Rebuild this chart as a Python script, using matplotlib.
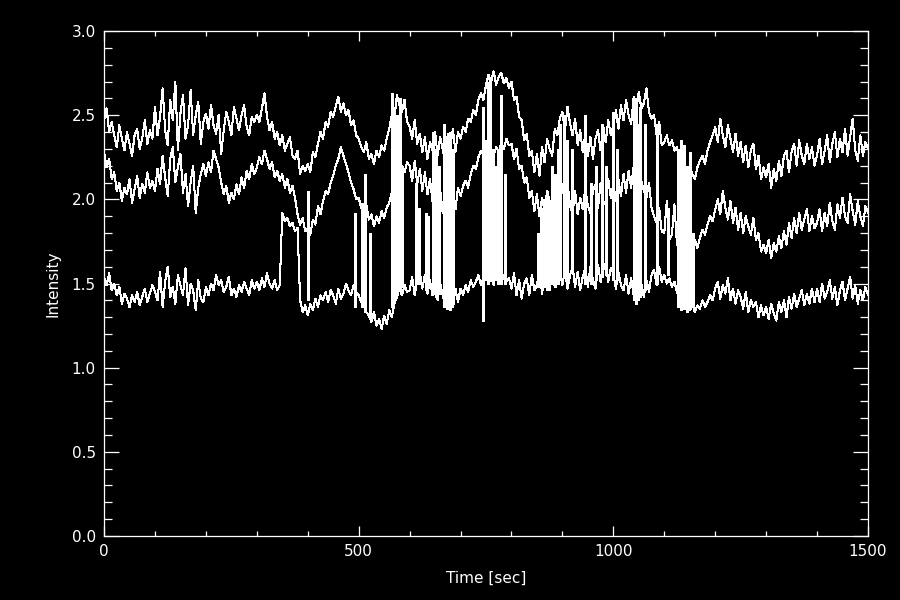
import numpy as np
import matplotlib.pyplot as plt
from matplotlib.ticker import MultipleLocator, FormatStrFormatter

# time axis: one sample every 5 sec
time = np.arange(0, 1501, 5)

# intensity x 100, one row per 100 sec
top = [
    247, 254, 240, 246, 238, 231, 244, 236, 229, 240, 233, 226, 238, 242, 230, 236, 247, 233, 241, 236,
    255, 238, 249, 266, 241, 232, 259, 247, 270, 229, 251, 262, 236, 244, 265, 238, 250, 258, 233, 246,
    251, 242, 256, 244, 239, 250, 227, 241, 252, 246, 238, 255, 248, 241, 250, 256, 243, 238, 249, 246,
    250, 246, 254, 263, 249, 241, 246, 236, 240, 232, 238, 229, 233, 237, 226, 224, 229, 215, 220, 217,
    221, 216, 228, 225, 233, 240, 236, 246, 243, 252, 249, 255, 261, 252, 257, 250, 253, 244, 247, 238,
    236, 231, 228, 234, 224, 227, 221, 229, 225, 232, 229, 236, 242, 250, 247, 262, 256, 252, 259, 246,
    243, 236, 247, 233, 239, 228, 237, 224, 234, 229, 240, 226, 237, 230, 222, 239, 231, 242, 228, 240,
    236, 243, 240, 248, 246, 253, 250, 259, 263, 259, 268, 274, 270, 276, 268, 273, 275, 269, 272, 266,
    270, 259, 261, 249, 247, 235, 239, 226, 229, 216, 227, 214, 231, 222, 236, 230, 226, 242, 238, 248,
    252, 241, 255, 245, 238, 248, 232, 241, 228, 239, 226, 237, 224, 236, 241, 229, 244, 234, 247, 238,
    244, 253, 242, 256, 247, 259, 250, 245, 261, 252, 264, 254, 257, 266, 252, 248, 250, 238, 246, 232,
    234, 238, 232, 235, 229, 231, 222, 226, 218, 213, 220, 215, 212, 219, 223, 226, 221, 229, 234, 238,
    243, 234, 248, 238, 231, 244, 236, 228, 239, 226, 234, 222, 232, 219, 229, 233, 218, 226, 212, 219,
    213, 221, 207, 218, 211, 223, 214, 226, 229, 216, 228, 233, 220, 235, 226, 221, 233, 224, 231, 220,
    226, 236, 221, 229, 238, 222, 233, 240, 225, 236, 228, 242, 226, 237, 248, 229, 223, 238, 226, 234,
    230,
]

middle = [
    228, 219, 224, 212, 216, 205, 210, 199, 207, 203, 212, 198, 206, 214, 201, 209, 204, 216, 207, 211,
    205, 218, 209, 226, 213, 202, 224, 231, 210, 219, 227, 204, 215, 196, 210, 220, 192, 207, 215, 221,
    214, 222, 216, 229, 224, 219, 210, 203, 208, 198, 204, 200, 209, 203, 213, 207, 217, 212, 221, 215,
    219, 225, 221, 229, 224, 218, 222, 213, 217, 211, 215, 207, 212, 204, 208, 201, 191, 185, 189, 181,
    183, 179, 188, 185, 196, 191, 199, 205, 203, 210, 214, 220, 224, 231, 226, 221, 216, 210, 206, 200,
    201, 195, 193, 197, 188, 191, 184, 190, 186, 193, 189, 195, 198, 204, 210, 207, 214, 220, 216, 222,
    220, 211, 223, 209, 218, 205, 216, 203, 212, 199, 208, 195, 206, 192, 201, 197, 190, 204, 194, 207,
    202, 208, 211, 207, 215, 220, 218, 225, 229, 226, 232, 235, 229, 226, 231, 228, 234, 230, 236, 232,
    233, 224, 230, 218, 220, 210, 213, 201, 205, 193, 203, 190, 201, 193, 205, 199, 196, 210, 199, 212,
    208, 198, 210, 196, 192, 205, 191, 201, 194, 207, 196, 192, 205, 209, 195, 210, 199, 197, 212, 201,
    209, 199, 212, 202, 215, 204, 217, 207, 220, 209, 222, 211, 205, 201, 210, 195, 190, 186, 195, 181,
    180, 199, 176, 179, 197, 173, 170, 200, 171, 174, 168, 173, 176, 171, 177, 182, 179, 185, 190, 187,
    194, 200, 191, 205, 195, 188, 199, 186, 195, 182, 192, 180, 190, 184, 179, 189, 176, 180, 169, 173,
    168, 176, 165, 174, 169, 178, 171, 181, 173, 186, 177, 189, 180, 192, 182, 188, 194, 181, 190, 183,
    186, 194, 181, 192, 184, 198, 187, 182, 197, 189, 201, 190, 186, 203, 193, 185, 199, 190, 184, 196,
    192,
]

bottom = [
    154, 149, 156, 146, 150, 143, 148, 138, 144, 141, 136, 143, 139, 145, 137, 142, 147, 139, 144, 149,
    145, 140, 157, 136, 151, 160, 142, 148, 138, 155, 149, 143, 159, 137, 150, 146, 134, 152, 141, 139,
    148, 143, 150, 146, 155, 149, 152, 145, 148, 154, 143, 147, 142, 149, 145, 151, 147, 143, 152, 147,
    151, 146, 153, 148, 156, 150, 147, 152, 146, 149, 192, 187, 189, 184, 186, 181, 183, 140, 133, 137,
    131, 138, 134, 141, 136, 143, 140, 145, 139, 146, 143, 138, 147, 141, 144, 150, 146, 143, 149, 145,
    143, 139, 141, 133, 131, 127, 133, 125, 129, 123, 131, 126, 134, 130, 138, 142, 147, 143, 149, 145,
    146, 154, 143, 152, 157, 147, 155, 144, 152, 143, 155, 140, 150, 143, 138, 148, 140, 136, 147, 139,
    147, 143, 149, 145, 152, 148, 151, 155, 149, 153, 156, 150, 154, 149, 157, 152, 150, 155, 151, 153,
    147, 156, 143, 152, 141, 150, 153, 143, 155, 146, 149, 158, 144, 153, 156, 146, 157, 148, 151, 158,
    149, 158, 147, 155, 160, 148, 157, 146, 154, 159, 148, 160, 152, 147, 161, 151, 158, 162, 151, 159,
    156, 147, 157, 149, 146, 155, 144, 153, 143, 152, 141, 150, 142, 152, 145, 155, 158, 149, 160, 151,
    155, 150, 153, 148, 151, 145, 141, 143, 137, 140, 134, 138, 133, 137, 135, 140, 136, 139, 143, 140,
    147, 151, 141, 149, 144, 153, 140, 147, 138, 146, 142, 135, 145, 133, 140, 136, 139, 130, 137, 131,
    136, 129, 138, 132, 128, 139, 133, 140, 130, 142, 135, 144, 136, 141, 146, 137, 144, 138, 147, 139,
    147, 139, 150, 141, 145, 152, 141, 148, 137, 146, 151, 140, 147, 154, 141, 149, 138, 146, 140, 148,
    143,
]

# short jumps of the signal between levels (time, low, high)
spike_t = [400, 493, 506, 512, 522, 565, 570, 575, 581, 586, 612, 618,
           632, 637, 646, 652, 658, 667, 673, 679, 686,
           745, 750, 754, 758, 763, 768, 774, 780, 787,
           852, 858, 863, 869, 874, 880, 885, 891, 896, 903, 910, 918,
           945, 957, 966, 978, 985, 1000, 1008,
           1040, 1044, 1049, 1053, 1063, 1085, 1107,
           1127, 1132, 1138, 1144, 1150, 1157]
spike_lo = [1.40, 1.36, 1.36, 1.33, 1.30, 1.36, 1.40, 1.44, 1.46, 1.48, 1.50, 1.50,
            1.46, 1.48, 1.44, 1.42, 1.44, 1.36, 1.35, 1.34, 1.38,
            1.28, 1.52, 1.50, 1.52, 1.50, 1.52, 1.50, 1.50, 1.50,
            1.48, 1.50, 1.48, 1.46, 1.50, 1.50, 1.48, 1.50, 1.52, 1.54, 1.52, 1.56,
            1.50, 1.50, 1.52, 1.54, 1.55, 1.52, 1.52,
            1.40, 1.38, 1.40, 1.42, 1.46, 1.50, 1.55,
            1.36, 1.34, 1.35, 1.33, 1.35, 1.36]
spike_hi = [2.05, 1.92, 1.98, 2.15, 1.80, 2.63, 2.55, 2.50, 2.60, 2.20, 2.10, 1.95,
            1.92, 1.90, 2.40, 2.30, 2.20, 2.45, 2.35, 2.40, 2.30,
            2.55, 2.35, 2.70, 2.72, 2.30, 2.20, 2.28, 2.62, 2.15,
            1.80, 1.95, 2.00, 2.05, 1.98, 2.20, 2.15, 2.30, 2.45, 2.50, 2.35, 2.30,
            2.50, 2.10, 2.20, 2.45, 2.20, 2.52, 2.30,
            2.55, 2.60, 2.45, 2.55, 2.45, 2.45, 1.95,
            2.30, 2.35, 2.32, 2.20, 2.28, 1.80]

fig = plt.figure(figsize=(9, 6), dpi=100, facecolor='black')
ax = fig.add_axes([0.1156, 0.1067, 0.8488, 0.8416], facecolor='black')

for series in (top, middle, bottom):
    ax.plot(time, np.array(series) / 100.0, color='white', lw=0.75, antialiased=False)
ax.vlines(spike_t, spike_lo, spike_hi, color='white', lw=0.75, antialiased=False)

ax.set_xlim(0, 1500)
ax.set_ylim(0, 3)
ax.xaxis.set_major_locator(MultipleLocator(500))
ax.xaxis.set_minor_locator(MultipleLocator(100))
ax.yaxis.set_major_locator(MultipleLocator(0.5))
ax.yaxis.set_minor_locator(MultipleLocator(0.1))
ax.yaxis.set_major_formatter(FormatStrFormatter('%.1f'))

for s in ax.spines.values():
    s.set_color('white')
    s.set_linewidth(0.9)
ax.tick_params(axis='both', which='both', direction='in', top=True, right=True,
               colors='white', labelsize=11, width=0.9)
ax.tick_params(axis='x', which='major', length=7.2, pad=6)
ax.tick_params(axis='x', which='minor', length=3.6)
ax.tick_params(axis='y', which='major', length=10.8, pad=6)
ax.tick_params(axis='y', which='minor', length=5.8)

ax.set_xlabel('Time [sec]', color='white', fontsize=11, labelpad=8)
ax.set_ylabel('Intensity', color='white', fontsize=11, labelpad=8)

fig.savefig('out.png', dpi=100, facecolor='black')
